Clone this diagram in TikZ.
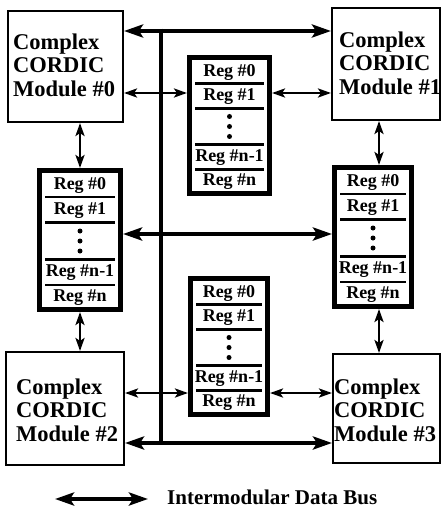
\documentclass[tikz,border=0pt]{standalone}
\usepackage{fontspec}
\setmainfont{Liberation Serif}
\usetikzlibrary{arrows.meta}
\tikzset{
  module/.style={draw, line width=2pt, rectangle, inner sep=0pt},
  stackbox/.style={draw, line width=5pt, rectangle, inner sep=0pt},
  divider/.style={line width=2.5pt},
  busline/.style={line width=4.5pt},
  bus/.style={busline, {Stealth[length=19pt,width=13pt,inset=4pt]}-{Stealth[length=19pt,width=13pt,inset=4pt]}},
  link/.style={line width=2.5pt, {Stealth[length=13pt,width=9pt,inset=3pt]}-{Stealth[length=13pt,width=9pt,inset=3pt]}},
  modtext/.style={font=\fontsize{22.5}{23.5}\selectfont\bfseries, align=left, anchor=north west, inner sep=0pt},
  regtext/.style={font=\fontsize{18}{18}\selectfont\bfseries, inner sep=0pt, text height=12pt, text depth=4pt},
  legtext/.style={font=\fontsize{21}{21}\selectfont\bfseries, inner sep=0pt, anchor=base west},
}
% name, cx, cy, outer width, outer height
\newcommand\regstack[5]{%
  \node[stackbox, minimum width={#4pt-5pt}, minimum height={#5pt-5pt}] (#1) at (#2,#3) {};
  \begin{scope}[shift={(#1.north west)}]
    \draw[divider] (8,{#5*0.203}) -- ({#4-8},{#5*0.203});
    \draw[divider] (8,{#5*0.378}) -- ({#4-8},{#5*0.378});
    \draw[divider] (8,{#5*0.636}) -- ({#4-8},{#5*0.636});
    \draw[divider] (8,{#5*0.811}) -- ({#4-8},{#5*0.811});
    \node[regtext] (#1-r0) at ({#4/2},{#5*0.122}) {Reg \#0};
    \node[regtext] (#1-r1) at ({#4/2},{#5*0.295}) {Reg \#1};
    \fill ({#4/2},{#5*0.507-10}) circle (2.5pt);
    \fill ({#4/2},{#5*0.507}) circle (2.5pt);
    \fill ({#4/2},{#5*0.507+10}) circle (2.5pt);
    \node[regtext] (#1-rn1) at ({#4/2},{#5*0.728}) {Reg \#n-1};
    \node[regtext] (#1-rn) at ({#4/2},{#5*0.897}) {Reg \#n};
  \end{scope}}
\begin{document}
\begin{tikzpicture}[x=1pt,y=-1pt]
  \useasboundingbox[fill=white] (0,0) rectangle (442,508);
  % modules
  \node[module, minimum width=115pt, minimum height=111pt] (m0) at (65.5,66.5) {};
  \node[module, minimum width=108pt, minimum height=112pt] (m1) at (386,64) {};
  \node[module, minimum width=118pt, minimum height=113pt] (m2) at (65,408.5) {};
  \node[module, minimum width=107pt, minimum height=109pt] (m3) at (386.5,408.5) {};
  \node[modtext] (m0t) at (13,33.5) {Complex\\CORDIC\\Module \#0};
  \node[modtext] (m1t) at (339,31.5) {Complex\\CORDIC\\Module \#1};
  \node[modtext] (m2t) at (16,378.5) {Complex\\CORDIC\\Module \#2};
  \node[modtext] (m3t) at (334,378.5) {Complex\\CORDIC\\Module \#3};
  % register stacks
  \regstack{sL}{80}{240}{86}{144}
  \regstack{sR}{373}{237}{82}{144}
  \regstack{sT}{229.5}{125.5}{85}{141}
  \regstack{sB}{229}{346.5}{82}{141}
  % buses
  \coordinate (btop) at (161,31);
  \coordinate (bmid) at (161,234);
  \coordinate (bbot) at (161,443);
  \coordinate (vtop) at (161,28.75);
  \coordinate (vbot) at (161,445.25);
  \draw[busline] (vtop) -- (vbot);
  \draw[bus] (m0.east |- btop) -- (m1.west |- btop);
  \draw[bus] (sL.east |- bmid) -- (sR.west |- bmid);
  \draw[bus] (m2.east |- bbot) -- (m3.west |- bbot);
  % links
  \coordinate (r1) at (0,93);
  \coordinate (r2) at (0,393);
  \coordinate (c1) at (80,0);
  \coordinate (c2) at (379,0);
  \draw[link] (m0.east |- r1) -- (sT.west |- r1);
  \draw[link] (sT.east |- r1) -- (m1.west |- r1);
  \draw[link] (m2.east |- r2) -- (sB.west |- r2);
  \draw[link] (sB.east |- r2) -- (m3.west |- r2);
  \draw[link] (m0.south -| c1) -- (sL.north -| c1);
  \draw[link] (sL.south -| c1) -- (m2.north -| c1);
  \draw[link] (m1.south -| c2) -- (sR.north -| c2);
  \draw[link] (sR.south -| c2) -- (m3.north -| c2);
  % legend
  \coordinate (la) at (55,499);
  \coordinate (lb) at (148,499);
  \draw[bus] (la) -- (lb);
  \node[legtext] (leg) at (167,504) {Intermodular Data Bus};
\end{tikzpicture}
\end{document}
